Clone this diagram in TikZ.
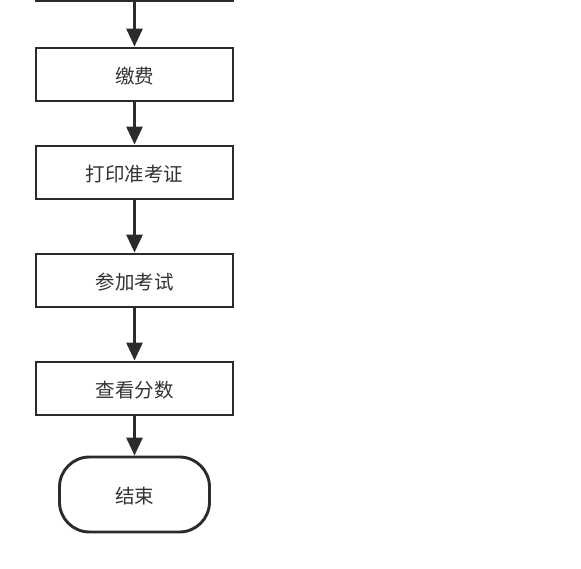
\documentclass[tikz,border=0pt]{standalone}
\usepackage{fontspec}
\newfontfamily\cjk{Noto Sans CJK SC}
\usetikzlibrary{arrows.meta}
\definecolor{ln}{HTML}{2B2B2B}
\definecolor{tx}{HTML}{333333}
\newcommand{\lowtxt}[1]{\raisebox{-9pt}[0pt][0pt]{#1}}
\tikzset{
  x=1pt, y=-1pt,
  procbox/.style={draw=ln, line width=2.9pt, fill=white, minimum width=197pt, minimum height=53pt, inner sep=0pt, font=\cjk\fontsize{19.5}{22}\selectfont, text=tx},
  termbox/.style={procbox, minimum width=150pt, minimum height=75pt, rounded corners=30pt},
  flow/.style={draw=ln, line width=2.9pt, -{Triangle[length=18pt,width=16pt]}, shorten >=0pt}
}
\begin{document}
\begin{tikzpicture}
\fill[white] (0,0) rectangle (581,569);
\clip (0,0) rectangle (581,569);
\node[procbox] (s0) at (134.5,-25.5) {};
\node[procbox] (s1) at (134.5,74.5) {\lowtxt{缴费}};
\node[procbox] (s2) at (134.5,172.5) {\lowtxt{打印准考证}};
\node[procbox] (s3) at (134.5,280.5) {\lowtxt{参加考试}};
\node[procbox] (s4) at (134.5,388.5) {\lowtxt{查看分数}};
\node[termbox] (s5) at (134.5,494.5) {\lowtxt{结束}};
\draw[flow] (s0) -- (s1);
\draw[flow] (s1) -- (s2);
\draw[flow] (s2) -- (s3);
\draw[flow] (s3) -- (s4);
\draw[flow] (s4) -- (s5);
\end{tikzpicture}
\end{document}
